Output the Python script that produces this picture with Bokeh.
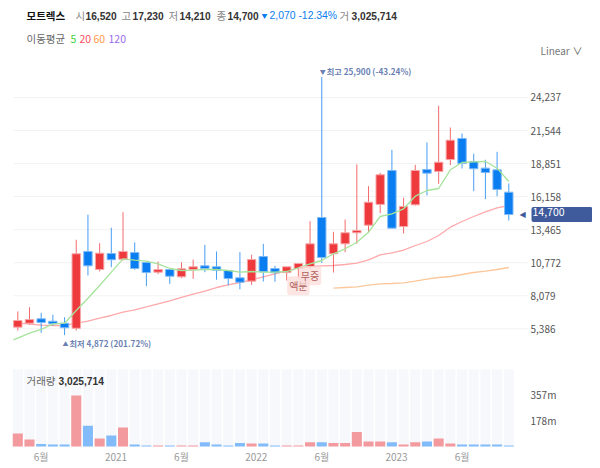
from bokeh.embed import file_html
from bokeh.resources import INLINE
from bokeh.layouts import column
from bokeh.models import ColumnDataSource, FixedTicker, Label, LinearAxis, Range1d
from bokeh.plotting import figure

FONT = "Noto Sans CJK KR"
NUM_FONT = "Liberation Sans"

open_p = [5520, 5840, 6200, 6000, 5840, 5430, 11690, 10220, 11520, 11060, 11600, 10790, 10000, 10220, 9620,
          10220, 10520, 10440, 10140, 9540, 9270, 11280, 10300, 9970, 10300, 10460, 14460, 11500, 12310, 13210,
          13830, 15520, 18290, 13720, 15490, 18370, 18210, 19180, 20900, 19020, 18480, 18340, 16520]
close_p = [6060, 6140, 5900, 5790, 5470, 11500, 10520, 11550, 11010, 11690, 10300, 9970, 10220, 9670, 10280,
           10440, 10300, 10160, 9490, 9180, 11030, 10030, 9950, 10440, 10710, 12310, 11200, 12310, 13210, 13400,
           15700, 17940, 13590, 15350, 18290, 18070, 18960, 20760, 18860, 18430, 18120, 16740, 14700]
high_p = [6800, 7150, 6690, 6530, 6330, 12640, 14680, 12360, 13620, 14890, 12420, 10790, 10870, 10220, 10810,
          11030, 12230, 11690, 10140, 11630, 11420, 12310, 10520, 10440, 10710, 14160, 25900, 13290, 14290, 18780,
          17010, 18100, 19970, 16060, 18750, 20570, 23560, 21790, 21300, 19650, 19160, 19810, 17230]
low_p = [5250, 5740, 5060, 5650, 4872, 5250, 9730, 10060, 10410, 10950, 10190, 8860, 9840, 9050, 9510,
         9460, 10000, 9380, 8940, 8610, 8970, 9240, 9220, 9320, 9540, 10280, 10760, 9970, 11630, 12310,
         13260, 14810, 13590, 13150, 15440, 16250, 17200, 18720, 18450, 16600, 15950, 16190, 14210]
volume_m = [89, 48, 18, 14, 14, 350, 142, 55, 75, 130, 14, 7, 7, 7, 7, 7, 30, 14, 7, 25, 21, 21,
            7, 7, 7, 30, 30, 25, 25, 100, 34, 34, 30, 14, 30, 34, 55, 21, 14, 14, 14, 14, 7]

ma_x = [-0.37] + list(range(43))
ma5 = [4489, 4619, 5027, 5329, 5793, 5842, 6877, 7880, 8914, 10000, 11090, 10977, 10895, 10683, 10300,
       10137, 10162, 10218, 10218, 10137, 10000, 10055, 10000, 10000, 10055, 10357, 10683, 10952, 11498, 11905,
       12444, 13258, 14538, 14758, 15166, 16192, 16657, 16820, 18344, 18939, 18996, 19020, 18475, 17391]
ma20 = [5900, 5875, 5761, 5680, 5654, 5654, 5842, 6005, 6250, 6470, 6738, 6934, 7177, 7423, 7667,
        7937, 8205, 8450, 8751, 8972, 9159, 9379, 9624, 9868, 10112, 10324, 10463, 10520, 10545, 10626,
        10732, 11009, 11417, 11580, 11792, 12175, 12500, 12990, 13666, 14130, 14538, 14921, 15247, 15435]
ma60 = [8695, 8752, 8809, 8939, 9053, 9078, 9135, 9265, 9428, 9566, 9648, 9811, 9974, 10080, 10219, 10381]

price_ticks = [5386, 8079, 10772, 13465, 16158, 18851, 21544, 24237]
volume_ticks = [178.5, 357]
month_ticks = [2, 8.4, 14, 20.4, 26, 32.4, 38]
month_labels = ["6월", "2021", "6월", "2022", "6월", "2023", "6월"]

RED, BLUE = "#ef3a3d", "#0a7df0"
TAG = "#3f5b9b"
GRID_L, GRID_R = -0.368, 43.6

idx = list(range(len(open_p)))
colors = [RED if c >= o else BLUE for o, c in zip(open_p, close_p)]
edges = ["#f7a6a8" if c >= o else "#7fbaf7" for o, c in zip(open_p, close_p)]
src = ColumnDataSource(dict(x=idx, top=[max(a, b) for a, b in zip(open_p, close_p)],
                            bottom=[min(a, b) for a, b in zip(open_p, close_p)],
                            high=high_p, low=low_p, color=colors, edge=edges))

# the plot frames fill the figures, so texts outside the chart area are not clipped
x_range = Range1d(-1.48, 49.16)
TOP_H = 366
VOL_H = 100


def blank_figure(height, y_range):
    fig = figure(width=592, height=height, x_range=x_range, y_range=y_range, x_axis_location=None,
                 y_axis_location=None, output_backend="svg", toolbar_location=None,
                 min_border=0, min_border_left=0, min_border_right=0, min_border_top=0, min_border_bottom=0)
    fig.outline_line_color = None
    fig.grid.visible = False
    return fig


def style_axis(ax, color):
    ax.axis_line_color = None
    ax.major_tick_line_color = None
    ax.minor_tick_line_color = None
    ax.major_tick_out = 0
    ax.major_tick_in = 0
    ax.major_label_standoff = 3
    ax.major_label_text_font = FONT
    ax.major_label_text_font_size = "10px"
    ax.major_label_text_color = color


p = blank_figure(TOP_H, Range1d(2313, 32142))
price_axis = LinearAxis(fixed_location=GRID_R, ticker=FixedTicker(ticks=price_ticks),
                        major_label_overrides={t: f"{t:,}" for t in price_ticks})
style_axis(price_axis, "#555555")
p.add_layout(price_axis, "right")

p.segment([GRID_L] * len(price_ticks), price_ticks, [GRID_R] * len(price_ticks), price_ticks,
          color="#f2f2f2", line_width=1)
p.line(ma_x, ma20, color="#ffa9ab", line_width=1.3)
p.line(list(range(27, 43)), ma60, color="#fcc79a", line_width=1.3)
p.segment("x", "high", "x", "low", source=src, color="color", line_width=1, line_alpha=0.75)
p.vbar("x", width=0.72, top="top", bottom="bottom", source=src, fill_color="color", line_color="edge")
p.line(ma_x, ma5, color="#a5e39b", line_width=1.3)


def text(fig, px, py, s, color="#333333", size="10.5px", style="normal", fig_h=TOP_H, top=0, font=FONT):
    # px, py are page pixels
    fig.add_layout(Label(x=px, y=fig_h - (py - top), x_units="screen", y_units="screen", text=s,
                         text_color=color, text_font=font, text_font_size=size, text_font_style=style,
                         text_baseline="middle"))


GRAY, DARK = "#888888", "#333333"
for px, s in [(75, "시"), (121, "고"), (168, "저"), (216, "종"), (339, "거")]:
    text(p, px, 15, s, GRAY)
for px, s in [(85, "16,520"), (132, "17,230"), (179, "14,210"), (227, "14,700"), (351, "3,025,714")]:
    text(p, px, 15, s, DARK, "10.2px", "bold", font=NUM_FONT)
text(p, 26, 15, "모트렉스", "#111111", style="bold")
text(p, 261, 15, "▼", BLUE, "6px")
text(p, 269, 15, "2,070 -12.34%", BLUE, "10.4px", font=NUM_FONT)

text(p, 26, 38, "이동평균", "#666666")
for px, s, c in [(70, "5", "#3fcf3f"), (79, "20", "#ff4f5f"), (93, "60", "#ff9a4a"), (108, "120", "#9a6cf0")]:
    text(p, px, 38, s, c)

text(p, 540, 50, "Linear", "#777777", "10px")
text(p, 572, 50, "∨", "#555555", "10px")

# high / low marks sit on the candles
MARK = "#6b7fb3"
for x, y, off, arrow, s in [(26, 25900, 6, "▼", "최고 25,900 (-43.24%)"), (4, 4872, -8, "▲", "최저 4,872 (201.72%)")]:
    for dx, t, size in [(-2, arrow, "6px"), (5, s, "8.2px")]:
        p.add_layout(Label(x=x, y=y, x_offset=dx, y_offset=off, text=t, text_color=MARK, text_font=FONT,
                           text_font_size=size, text_font_style="bold", text_baseline="middle"))

for i, s, off in [(24, "액분", -8), (25, "무증", -7)]:
    p.add_layout(Label(x=i, y=low_p[i], y_offset=off, text=s, text_color="#b0605c", text_font=FONT,
                       text_font_size="10px", text_align="center", text_baseline="middle",
                       background_fill_color="#fbdcd9", background_fill_alpha=0.75, padding=2, border_radius=3))

# current price tag
p.add_layout(Label(x=519, y=close_p[-1], x_units="screen", text="◀", text_color=TAG, text_font="DejaVu Sans",
                   text_font_size="8px", text_baseline="middle"))
p.add_layout(Label(x=531, y=close_p[-1], x_units="screen", text=f"{close_p[-1]:,}", text_color="white", text_font=FONT,
                   text_font_size="10.5px", text_baseline="middle", background_fill_color=TAG,
                   padding=(1, 28, 1, 6), border_radius=2))

vol_src = ColumnDataSource(dict(x=idx, top=volume_m, full=[528] * len(idx),
                                color=["#f39a9e" if c == RED else "#82bbf9" for c in colors]))
v = blank_figure(VOL_H, Range1d(-137, 549))
v.vbar("x", width=0.86, top="full", source=vol_src, fill_color="#f6f8fc", line_color=None)
v.vbar("x", width=0.86, top="top", source=vol_src, fill_color="color", line_color=None)

vol_axis = LinearAxis(fixed_location=GRID_R, ticker=FixedTicker(ticks=volume_ticks),
                      major_label_overrides={178.5: "178m", 357: "357m"})
style_axis(vol_axis, "#555555")
v.add_layout(vol_axis, "right")
month_axis = LinearAxis(fixed_location=0, ticker=FixedTicker(ticks=month_ticks),
                        major_label_overrides=dict(zip(month_ticks, month_labels)))
style_axis(month_axis, "#999999")
month_axis.major_label_standoff = 2
v.add_layout(month_axis, "below")

text(v, 26, 380, "거래량", "#666666", fig_h=VOL_H, top=TOP_H)
text(v, 58, 380, "3,025,714", DARK, "10.2px", "bold", fig_h=VOL_H, top=TOP_H, font=NUM_FONT)

layout = column(p, v, spacing=0)
open("out.html", "w").write(file_html(layout, INLINE))
